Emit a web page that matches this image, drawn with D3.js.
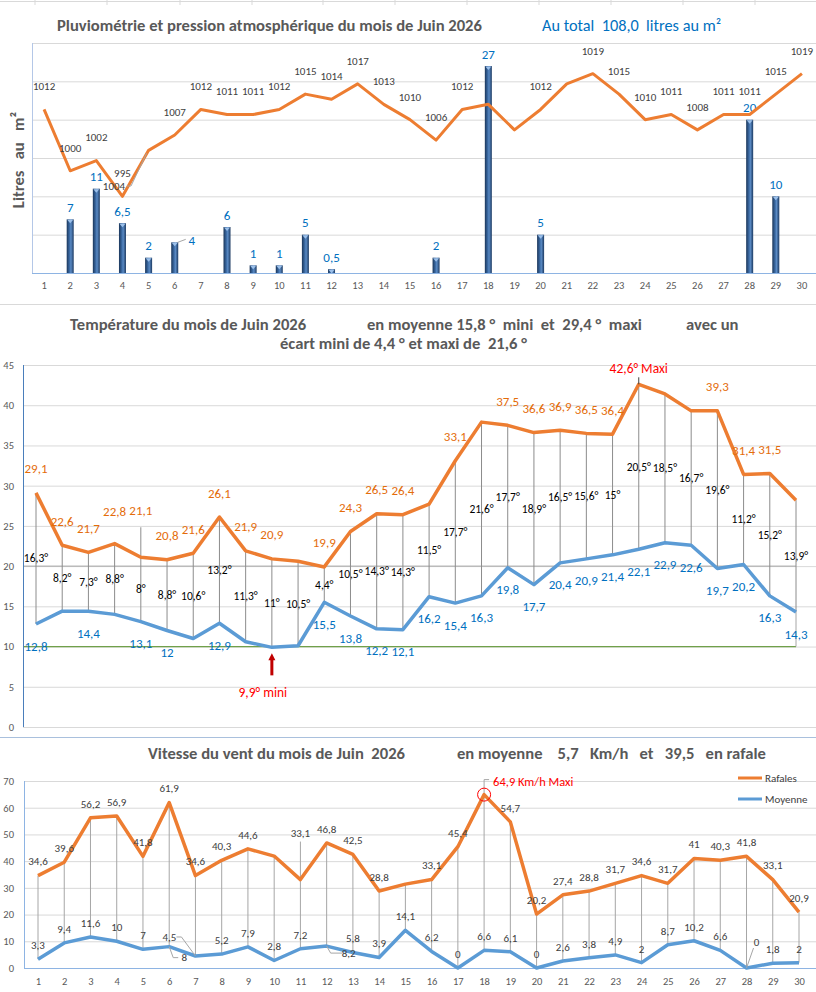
<!DOCTYPE html>
<html>
<head>
<meta charset="utf-8">
<script src="https://cdn.jsdelivr.net/npm/d3@7"></script>
<style>
  body { margin: 0; background: #fff; }
  svg { font-family: Carlito, Calibri, Lato, sans-serif; }
  .title { font-weight: bold; fill: #595959; font-size: 16.6px; white-space: pre; }
  .subtitle { fill: #0070c0; font-size: 16.3px; white-space: pre; }
  .lbl { font-size: 11px; fill: #404040; }
  .axis text { fill: #595959; font-size: 10.5px; font-family: Carlito, Calibri, Lato, sans-serif; }
</style>
</head>
<body>
<svg id="chart" width="816" height="992"></svg>
<script>
// jours du mois
const days = [1,2,3,4,5,6,7,8,9,10,11,12,13,14,15,16,17,18,19,20,21,22,23,24,25,26,27,28,29,30];

// pluie (l/m2) et pression (hPa)
const rain = [0,7,11,6.5,2,4,0,6,1,1,5,0.5,0,0,0,2,0,27,0,5,0,0,0,0,0,0,0,20,10,0];
const pressure = [1012,1000,1002,995,1004,1007,1012,1011,1011,1012,1015,1014,1017,1013,1010,1006,1012,1013,1008,1012,1017,1019,1015,1010,1011,1008,1011,1011,1015,1019];
const pressureHidden = [18,19,21];

// temperatures
const tMax = [29.1,22.6,21.7,22.8,21.1,20.8,21.6,26.1,21.9,20.9,20.6,19.9,24.3,26.5,26.4,27.7,33.1,37.9,37.5,36.6,36.9,36.5,36.4,42.6,41.4,39.3,39.3,31.4,31.5,28.2];
const tMin = [12.8,14.4,14.4,14.0,13.1,12.0,11.0,12.9,10.6,9.9,10.1,15.5,13.8,12.2,12.1,16.2,15.4,16.3,19.8,17.7,20.4,20.9,21.4,22.1,22.9,22.6,19.7,20.2,16.3,14.3];
const tGap = [16.3,8.2,7.3,8.8,8,8.8,10.6,13.2,11.3,11,10.5,4.4,10.5,14.3,14.3,11.5,17.7,21.6,17.7,18.9,16.5,15.6,15,20.5,18.5,16.7,19.6,11.2,15.2,13.9];
const tMaxHidden = [11,16,18,25,26,30];
const tMinHidden = [2,4,7,9,11];
const tempTicks = [0,5,10,15,20,25,30,35,40,45];

// vent (km/h)
const gusts = [34.6,39.6,56.2,56.9,41.8,61.9,34.6,40.3,44.6,41.9,33.1,46.8,42.5,28.8,31.4,33.1,45.4,64.9,54.7,20.2,27.4,28.8,31.7,34.6,31.7,41,40.3,41.8,33.1,20.9];
const windAvg = [3.3,9.4,11.6,10,7,8,4.5,5.2,7.9,2.8,7.2,8.2,5.8,3.9,14.1,6.2,0,6.6,6.1,0,2.6,3.8,4.9,2,8.7,10.2,6.6,0,1.8,2];
const gustsHidden = [10,15];
const windTicks = [0,10,20,30,40,50,60,70];

const fr = v => String(v).replace('.', ',');
const svg = d3.select('#chart');
const W = 816;

// separateurs de cellules
svg.append('line').attr('x1', 0).attr('x2', W).attr('y1', 1.5).attr('y2', 1.5).attr('stroke', '#d9d9d9');
[35,107,180,252,323,395,467,539,611,683,755].forEach(x => {
    svg.append('line').attr('x1', x).attr('x2', x).attr('y1', 0).attr('y2', 5).attr('stroke', '#d9d9d9');
});
svg.append('line').attr('x1', 0).attr('x2', W).attr('y1', 304.5).attr('y2', 304.5).attr('stroke', '#d9d9d9');
svg.append('line').attr('x1', 0).attr('x2', W).attr('y1', 737.5).attr('y2', 737.5).attr('stroke', '#a9c0dd');

// ================= Pluviometrie =================
const g1 = svg.append('g');
const x1 = d3.scaleBand().domain(days).range([31, 815]);
const cx1 = d => x1(d) + x1.bandwidth() / 2;
const yRain = d3.scaleLinear().domain([0, 30]).range([273, 43]);
const yPres = d3.scaleLinear().domain([980, 1025]).range([273, 43]);

g1.append('g')
    .attr('transform', 'translate(32,0)')
    .call(d3.axisLeft(yRain).tickValues([5,10,15,20,25,30]).tickSize(-(W - 32)).tickFormat(''))
    .call(g => g.select('.domain').remove())
    .call(g => g.selectAll('line').attr('stroke', '#d9d9d9'));
g1.append('line').attr('x1', 32).attr('x2', W).attr('y1', 273.5).attr('y2', 273.5).attr('stroke', '#8eb4e3');
g1.append('line').attr('x1', 32.5).attr('x2', 32.5).attr('y1', 43).attr('y2', 273).attr('stroke', '#b4c7e7');

g1.append('g')
    .attr('class', 'axis')
    .attr('transform', 'translate(0,273)')
    .call(d3.axisBottom(x1).tickSize(0).tickPadding(9))
    .call(g => g.select('.domain').remove());

g1.append('text')
    .attr('class', 'title')
    .attr('transform', 'translate(24,160) rotate(-90)')
    .attr('text-anchor', 'middle')
    .attr('font-size', 15)
    .text('Litres   au   m²');

// barres en cylindre
const grad = svg.append('defs').append('linearGradient').attr('id', 'barGrad');
[[0, '#1a3559'], [0.4, '#3b6aa3'], [0.6, '#5a8ac4'], [1, '#1c3a62']].forEach(s => {
    grad.append('stop').attr('offset', s[0]).attr('stop-color', s[1]);
});
const rainData = days.map((d, i) => ({ d, v: rain[i] })).filter(r => r.v > 0);
g1.selectAll('.bar')
    .data(rainData)
    .join('rect')
    .attr('class', 'bar')
    .attr('x', r => cx1(r.d) - 3.5)
    .attr('width', 7)
    .attr('y', r => yRain(r.v))
    .attr('height', r => yRain(0) - yRain(r.v))
    .attr('fill', 'url(#barGrad)');
g1.selectAll('.cap')
    .data(rainData)
    .join('path')
    .attr('class', 'cap')
    .attr('d', r => `M${cx1(r.d) - 3},${yRain(r.v) + 0.5}L${cx1(r.d) + 3},${yRain(r.v) + 0.5}L${cx1(r.d)},${yRain(r.v) + 4}Z`)
    .attr('fill', '#9cc0ea');

// etiquettes pluie
g1.selectAll('.rainlbl')
    .data(rainData)
    .join('text')
    .attr('class', 'rainlbl')
    .attr('x', r => r.d === 6 ? cx1(r.d) + 17 : cx1(r.d))
    .attr('y', r => r.d === 6 ? yRain(r.v) - 2 : yRain(r.v) - 12)
    .attr('dy', '0.35em')
    .attr('text-anchor', 'middle')
    .attr('fill', '#0070c0')
    .attr('font-size', 13)
    .text(r => fr(r.v));
g1.append('line')
    .attr('x1', cx1(6) + 3).attr('y1', yRain(4))
    .attr('x2', cx1(6) + 11).attr('y2', yRain(4) - 3)
    .attr('stroke', '#a6a6a6');

// pression
const presLine = d3.line().x((p, i) => cx1(days[i])).y(p => yPres(p));
g1.append('path')
    .datum(pressure)
    .attr('d', presLine)
    .attr('fill', 'none')
    .attr('stroke', '#ed7d31')
    .attr('stroke-width', 3)
    .attr('stroke-linejoin', 'round');
g1.selectAll('.preslbl')
    .data(days.filter(d => !pressureHidden.includes(d)))
    .join('text')
    .attr('class', 'lbl preslbl')
    .attr('x', d => d === 5 ? 114 : cx1(d))
    .attr('y', d => d === 5 ? 186 : yPres(pressure[d - 1]) - 23)
    .attr('dy', '0.35em')
    .attr('text-anchor', 'middle')
    .attr('font-size', 10.5)
    .text(d => pressure[d - 1]);
g1.append('path')
    .attr('d', `M127,186L131,186L${cx1(5) - 2},${yPres(1004) + 3}`)
    .attr('fill', 'none')
    .attr('stroke', '#a6a6a6');

g1.append('text').attr('class', 'title').attr('x', 57).attr('y', 25).attr('dy', '0.35em')
    .text('Pluviométrie et pression atmosphérique du mois de Juin 2026');
g1.append('text').attr('class', 'subtitle').attr('x', 542).attr('y', 25).attr('dy', '0.35em')
    .text('Au total  108,0  litres au m²');

// ================= Temperature =================
const g2 = svg.append('g');
const x2 = d3.scalePoint().domain(days).range([36, 796]);
const yT = d3.scaleLinear().domain([0, 45]).range([727, 365]);

g2.append('g')
    .attr('class', 'axis')
    .attr('transform', 'translate(23,0)')
    .call(d3.axisLeft(yT).tickValues(tempTicks).tickSize(-(W - 23)).tickPadding(9))
    .call(g => g.select('.domain').remove())
    .call(g => g.selectAll('line').attr('stroke', '#d9d9d9'));
g2.append('line').attr('x1', 23).attr('x2', x2(30)).attr('y1', yT(20)).attr('y2', yT(20)).attr('stroke', '#a6a6a6');
g2.append('line').attr('x1', 23).attr('x2', x2(30)).attr('y1', yT(10)).attr('y2', yT(10)).attr('stroke', '#70a04a').attr('stroke-width', 1.3);
g2.append('line').attr('x1', x2(30)).attr('x2', x2(30)).attr('y1', yT(tMin[29])).attr('y2', yT(10)).attr('stroke', '#a6a6a6');
g2.append('line').attr('x1', 23.5).attr('x2', 23.5).attr('y1', 365).attr('y2', 727).attr('stroke', '#4a7ebb');

// lignes haut-bas
g2.selectAll('.hl')
    .data(days)
    .join('line')
    .attr('class', 'hl')
    .attr('x1', d => x2(d)).attr('x2', d => x2(d))
    .attr('y1', d => d === 5 ? yT(tMax[4]) - 30 : yT(tMax[d - 1]))
    .attr('y2', d => yT(tMin[d - 1]))
    .attr('stroke', '#8c8c8c');

const tLine = d3.line().x((t, i) => x2(days[i])).y(t => yT(t));
g2.append('path').datum(tMax).attr('d', tLine)
    .attr('fill', 'none').attr('stroke', '#ed7d31').attr('stroke-width', 3.5).attr('stroke-linejoin', 'round');
g2.append('path').datum(tMin).attr('d', tLine)
    .attr('fill', 'none').attr('stroke', '#5b9bd5').attr('stroke-width', 3.5).attr('stroke-linejoin', 'round');

const dayMax = days[tMax.indexOf(d3.max(tMax))];
const dayMin = days[tMin.indexOf(d3.min(tMin))];
const maxShift = { 4: -32, 5: -47 };

g2.selectAll('.maxlbl')
    .data(days.filter(d => !tMaxHidden.includes(d) && d !== dayMax))
    .join('text')
    .attr('class', 'maxlbl')
    .attr('x', d => x2(d))
    .attr('y', d => yT(tMax[d - 1]) + (maxShift[d] || -24))
    .attr('dy', '0.35em')
    .attr('text-anchor', 'middle')
    .attr('fill', '#e46c0a')
    .attr('font-size', 13)
    .text(d => fr(tMax[d - 1]));
g2.selectAll('.minlbl')
    .data(days.filter(d => !tMinHidden.includes(d) && d !== dayMin))
    .join('text')
    .attr('class', 'minlbl')
    .attr('x', d => x2(d))
    .attr('y', d => yT(tMin[d - 1]) + 22)
    .attr('dy', '0.35em')
    .attr('text-anchor', 'middle')
    .attr('fill', '#0070c0')
    .attr('font-size', 13)
    .text(d => fr(tMin[d - 1]));
g2.selectAll('.gaplbl')
    .data(days)
    .join('text')
    .attr('class', 'gaplbl')
    .attr('x', d => x2(d))
    .attr('y', d => (yT(tMax[d - 1]) + yT(tMin[d - 1])) / 2)
    .attr('dy', '0.35em')
    .attr('text-anchor', 'middle')
    .attr('fill', '#000')
    .attr('font-size', 11.5)
    .text(d => fr(tGap[d - 1]) + '°');

// maxi / mini
g2.append('line').attr('x1', x2(dayMax)).attr('x2', x2(dayMax))
    .attr('y1', yT(d3.max(tMax))).attr('y2', yT(d3.max(tMax)) - 7).attr('stroke', '#404040');
g2.append('text')
    .attr('x', x2(dayMax)).attr('y', yT(d3.max(tMax)) - 16).attr('dy', '0.35em')
    .attr('text-anchor', 'middle').attr('fill', '#ff0000').attr('font-size', 13.5)
    .text(fr(d3.max(tMax)) + '° Maxi');
g2.append('line').attr('x1', x2(dayMin)).attr('x2', x2(dayMin))
    .attr('y1', yT(d3.min(tMin)) + 28).attr('y2', yT(d3.min(tMin)) + 12)
    .attr('stroke', '#c00000').attr('stroke-width', 3);
g2.append('path')
    .attr('d', `M${x2(dayMin) - 3.5},${yT(d3.min(tMin)) + 13}L${x2(dayMin) + 3.5},${yT(d3.min(tMin)) + 13}L${x2(dayMin)},${yT(d3.min(tMin)) + 6}Z`)
    .attr('fill', '#c00000');
g2.append('text')
    .attr('x', x2(dayMin) - 9).attr('y', yT(d3.min(tMin)) + 45).attr('dy', '0.35em')
    .attr('text-anchor', 'middle').attr('fill', '#ff0000').attr('font-size', 13.5)
    .text(fr(d3.min(tMin)) + '° mini');

g2.append('text').attr('class', 'title').attr('x', 70).attr('y', 324).attr('dy', '0.35em')
    .text('Température du mois de Juin 2026');
g2.append('text').attr('class', 'title').attr('x', 367).attr('y', 324).attr('dy', '0.35em')
    .text('en moyenne 15,8 °  mini  et  29,4 °  maxi');
g2.append('text').attr('class', 'title').attr('x', 686).attr('y', 324).attr('dy', '0.35em')
    .text('avec un');
g2.append('text').attr('class', 'title').attr('x', 280).attr('y', 343).attr('dy', '0.35em')
    .text('écart mini de 4,4 ° et maxi de  21,6 °');

// ================= Vent =================
const g3 = svg.append('g');
const x3 = d3.scalePoint().domain(days).range([38, 799]);
const yW = d3.scaleLinear().domain([0, 70]).range([968, 781]);

g3.append('g')
    .attr('class', 'axis')
    .attr('transform', 'translate(24,0)')
    .call(d3.axisLeft(yW).tickValues(windTicks).tickSize(-(W - 24)).tickPadding(10))
    .call(g => g.select('.domain').remove())
    .call(g => g.selectAll('line').attr('stroke', '#d9d9d9'));
g3.append('line').attr('x1', 24).attr('x2', W).attr('y1', 968.5).attr('y2', 968.5).attr('stroke', '#8eb4e3');
g3.append('line').attr('x1', 24.5).attr('x2', 24.5).attr('y1', 781).attr('y2', 968).attr('stroke', '#8eb4e3');
g3.append('g')
    .attr('class', 'axis')
    .attr('transform', 'translate(0,968)')
    .call(d3.axisBottom(x3).tickSize(0).tickPadding(10))
    .call(g => g.select('.domain').remove());

const gustMax = d3.max(gusts);
const dayGust = days[gusts.indexOf(gustMax)];

g3.selectAll('.whl')
    .data(days)
    .join('line')
    .attr('class', 'whl')
    .attr('x1', d => x3(d)).attr('x2', d => x3(d))
    .attr('y1', d => d === dayGust ? yW(gustMax) - 15 : (d === 11 ? yW(gusts[d - 1]) - 38 : yW(gusts[d - 1])))
    .attr('y2', d => yW(windAvg[d - 1]))
    .attr('stroke', '#a6a6a6');

const wLine = d3.line().x((w, i) => x3(days[i])).y(w => yW(w));
g3.append('path').datum(gusts).attr('d', wLine)
    .attr('fill', 'none').attr('stroke', '#ed7d31').attr('stroke-width', 3.5).attr('stroke-linejoin', 'round');
g3.append('path').datum(windAvg).attr('d', wLine)
    .attr('fill', 'none').attr('stroke', '#5b9bd5').attr('stroke-width', 3.5).attr('stroke-linejoin', 'round');

g3.selectAll('.gustlbl')
    .data(days.filter(d => !gustsHidden.includes(d) && d !== dayGust))
    .join('text')
    .attr('class', 'lbl gustlbl')
    .attr('x', d => x3(d))
    .attr('y', d => yW(gusts[d - 1]) - (d === 11 ? 46 : 14))
    .attr('dy', '0.35em')
    .attr('text-anchor', 'middle')
    .attr('font-size', 12)
    .text(d => fr(gusts[d - 1]));

// etiquettes deplacees pour la moyenne
const avgShift = { 6: [15, 11], 7: [-26, -19], 12: [22, 7], 28: [10, -26] };
g3.selectAll('.avglbl')
    .data(days)
    .join('text')
    .attr('class', 'lbl avglbl')
    .attr('x', d => x3(d) + (avgShift[d] ? avgShift[d][0] : 0))
    .attr('y', d => yW(windAvg[d - 1]) + (avgShift[d] ? avgShift[d][1] : -14))
    .attr('dy', '0.35em')
    .attr('text-anchor', 'middle')
    .attr('font-size', 12)
    .text(d => fr(windAvg[d - 1]));
g3.selectAll('.leader')
    .data([6, 7, 12, 28])
    .join('path')
    .attr('class', 'leader')
    .attr('d', d => {
        const px = x3(d), py = yW(windAvg[d - 1]);
        const lx = px + avgShift[d][0], ly = py + avgShift[d][1];
        if (d === 28) return `M${px},${py}L${lx - 3},${ly + 6}`;
        if (d === 7) return `M${px},${py}L${lx + 12},${ly}L${lx + 7},${ly}`;
        return `M${px},${py}L${px + 4},${ly}L${lx - 6},${ly}`;
    })
    .attr('fill', 'none')
    .attr('stroke', '#a6a6a6');

// rafale maxi
g3.append('circle')
    .attr('cx', x3(dayGust)).attr('cy', yW(gustMax)).attr('r', 6.5)
    .attr('fill', 'none').attr('stroke', '#ff0000').attr('stroke-width', 1);
g3.append('line')
    .attr('x1', x3(dayGust)).attr('x2', x3(dayGust) + 5)
    .attr('y1', yW(gustMax) - 15).attr('y2', yW(gustMax) - 15).attr('stroke', '#a6a6a6');
g3.append('text')
    .attr('x', x3(dayGust) + 9).attr('y', yW(gustMax) - 13).attr('dy', '0.35em')
    .attr('fill', '#ff0000').attr('font-size', 12.5)
    .text(fr(gustMax) + ' Km/h Maxi');

// legende
const legend = [['Rafales', '#ed7d31', 778], ['Moyenne', '#5b9bd5', 799]];
legend.forEach(l => {
    g3.append('line').attr('x1', 738).attr('x2', 762).attr('y1', l[2]).attr('y2', l[2])
        .attr('stroke', l[1]).attr('stroke-width', 3);
    g3.append('text').attr('class', 'lbl').attr('x', 765).attr('y', l[2]).attr('dy', '0.35em')
        .attr('font-size', 10.5).text(l[0]);
});

g3.append('text').attr('class', 'title').attr('x', 148).attr('y', 753).attr('dy', '0.35em')
    .text('Vitesse du vent du mois de Juin  2026');
g3.append('text').attr('class', 'title').attr('x', 457).attr('y', 753).attr('dy', '0.35em')
    .text('en moyenne    5,7   Km/h   et   39,5   en rafale');
</script>
</body>
</html>
